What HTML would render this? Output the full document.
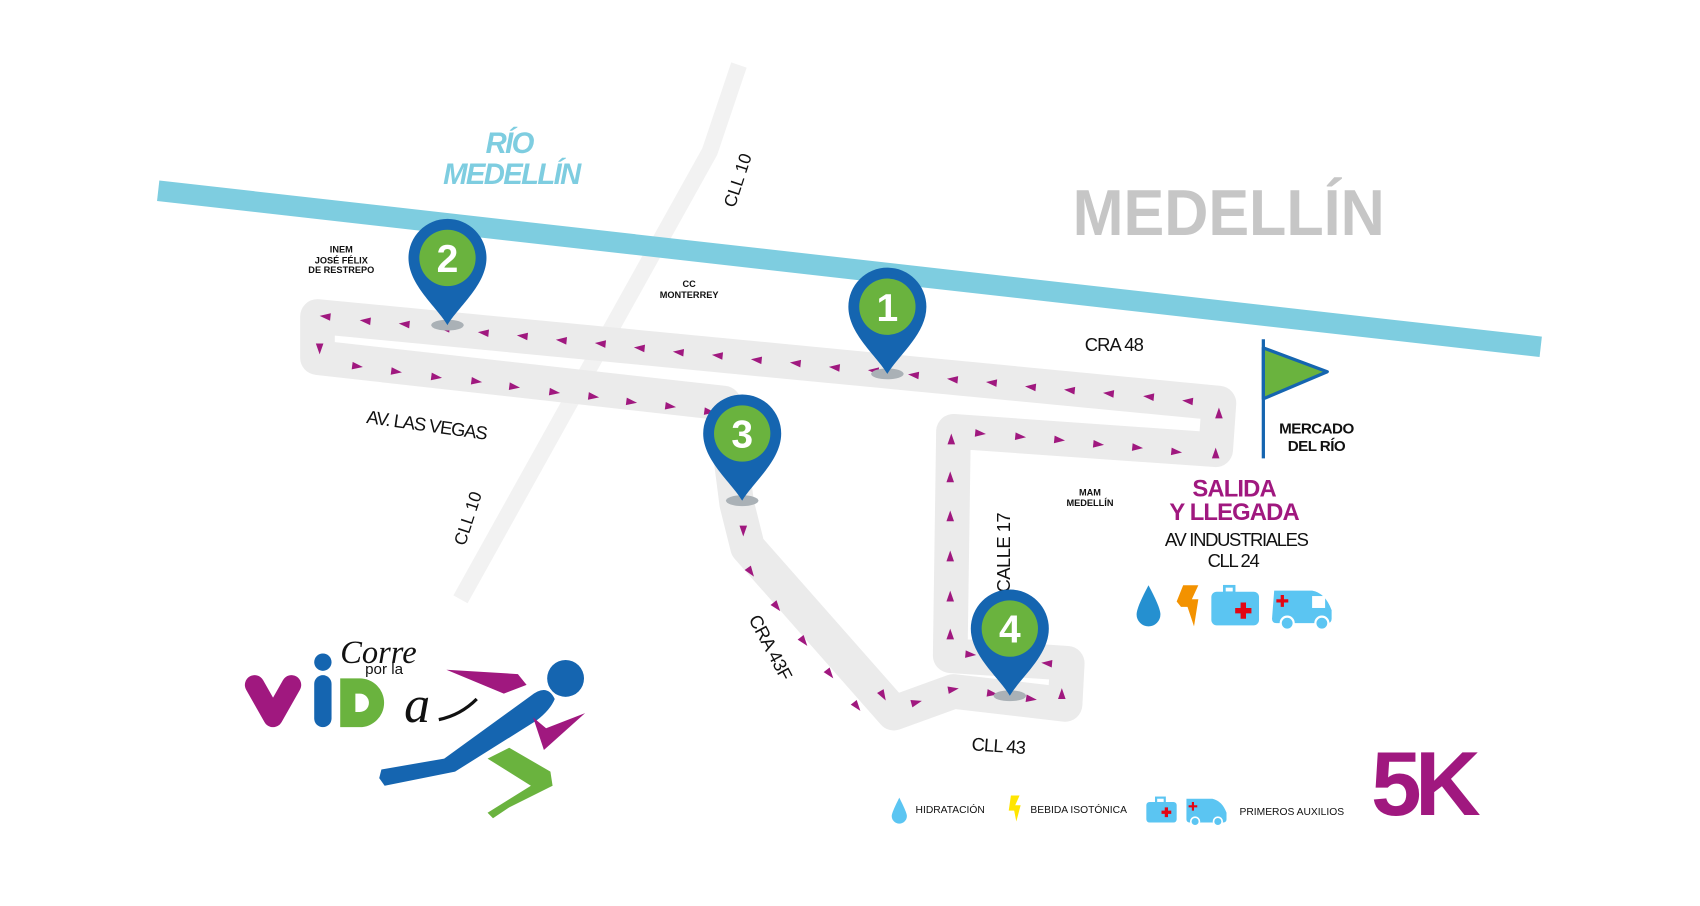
<!DOCTYPE html>
<html><head><meta charset="utf-8"><style>
html,body{margin:0;padding:0;background:#fff;width:1700px;height:906px;overflow:hidden}
svg{display:block}
</style></head><body>
<svg width="1700" height="906" viewBox="0 0 1569 836" preserveAspectRatio="none" xmlns="http://www.w3.org/2000/svg" font-family="Liberation Sans, sans-serif">
<defs>
<path id="t" d="M-5,-3.5 L5,0 L-5,3.5 Z" fill="#a0187f"/>
<g id="pin"><ellipse cx="0" cy="62" rx="15" ry="5" fill="#aab1b6"/><path d="M0,62 C-10,45 -36,25 -36,0 A36,36 0 1 1 36,0 C36,25 10,45 0,62 Z" fill="#1565b0"/><circle cx="0" cy="0" r="26" fill="#6ab33e"/></g>
</defs>
<rect width="1569" height="836" fill="#fff"/>
<polyline points="682,60 655,140 425,553" fill="none" stroke="#f2f2f2" stroke-width="15"/>
<line x1="146" y1="176" x2="1422" y2="320" stroke="#7ecde0" stroke-width="19"/>
<path d="M293,292 L1125,372 L1122,415 L880,398 L877,605 L985,612 L983,650 L880,638 L825,658 L690,505 L680,465 L668,372 L293,330 Z" fill="none" stroke="#ebebeb" stroke-width="32" stroke-linejoin="round"/>
<g>
<use href="#t" transform="translate(1096,370) rotate(185.7)"/><use href="#t" transform="translate(1060,366) rotate(185.7)"/><use href="#t" transform="translate(1023,363) rotate(185.7)"/><use href="#t" transform="translate(987,360) rotate(185.7)"/><use href="#t" transform="translate(951,357) rotate(185.7)"/><use href="#t" transform="translate(915,353) rotate(185.7)"/><use href="#t" transform="translate(879,350) rotate(185.7)"/><use href="#t" transform="translate(843,346) rotate(185.7)"/><use href="#t" transform="translate(806,342) rotate(185.7)"/><use href="#t" transform="translate(770,339) rotate(185.7)"/><use href="#t" transform="translate(734,335) rotate(185.7)"/><use href="#t" transform="translate(698,332) rotate(185.7)"/><use href="#t" transform="translate(662,328) rotate(185.7)"/><use href="#t" transform="translate(626,325) rotate(185.7)"/><use href="#t" transform="translate(590,321) rotate(185.7)"/><use href="#t" transform="translate(554,317) rotate(185.7)"/><use href="#t" transform="translate(518,314) rotate(185.7)"/><use href="#t" transform="translate(482,310) rotate(185.7)"/><use href="#t" transform="translate(446,307) rotate(185.7)"/><use href="#t" transform="translate(410,303) rotate(185.7)"/><use href="#t" transform="translate(373,299) rotate(185.7)"/><use href="#t" transform="translate(337,296) rotate(185.7)"/><use href="#t" transform="translate(300,292) rotate(185.7)"/>
<use href="#t" transform="translate(295,322) rotate(90)"/>
<use href="#t" transform="translate(330,338) rotate(7.4)"/><use href="#t" transform="translate(366,343) rotate(7.4)"/><use href="#t" transform="translate(403,348) rotate(7.4)"/><use href="#t" transform="translate(440,352) rotate(7.4)"/><use href="#t" transform="translate(475,357) rotate(7.4)"/><use href="#t" transform="translate(512,362) rotate(7.4)"/><use href="#t" transform="translate(548,366) rotate(7.4)"/><use href="#t" transform="translate(583,371) rotate(7.4)"/><use href="#t" transform="translate(619,375) rotate(7.4)"/><use href="#t" transform="translate(655,380) rotate(7.4)"/>
<use href="#t" transform="translate(686,490) rotate(90)"/><use href="#t" transform="translate(693,528) rotate(55)"/><use href="#t" transform="translate(717,560) rotate(52)"/><use href="#t" transform="translate(742,592) rotate(52)"/><use href="#t" transform="translate(766,622) rotate(52)"/><use href="#t" transform="translate(791,652) rotate(52)"/><use href="#t" transform="translate(815,642) rotate(60)"/>
<use href="#t" transform="translate(846,648) rotate(-15)"/><use href="#t" transform="translate(880,636) rotate(-10)"/><use href="#t" transform="translate(916,640) rotate(8)"/><use href="#t" transform="translate(952,645) rotate(8)"/><use href="#t" transform="translate(980,640) rotate(-90)"/><use href="#t" transform="translate(966,612) rotate(185)"/><use href="#t" transform="translate(896,604) rotate(5)"/>
<use href="#t" transform="translate(877,585) rotate(-90)"/><use href="#t" transform="translate(877,550) rotate(-90)"/><use href="#t" transform="translate(877,513) rotate(-90)"/><use href="#t" transform="translate(877,476) rotate(-90)"/><use href="#t" transform="translate(877,440) rotate(-90)"/><use href="#t" transform="translate(878,405) rotate(-90)"/>
<use href="#t" transform="translate(905,400) rotate(5.7)"/><use href="#t" transform="translate(942,403) rotate(5.7)"/><use href="#t" transform="translate(978,406) rotate(5.7)"/><use href="#t" transform="translate(1014,410) rotate(5.7)"/><use href="#t" transform="translate(1050,413) rotate(5.7)"/><use href="#t" transform="translate(1086,417) rotate(5.7)"/>
<use href="#t" transform="translate(1122,418) rotate(-90)"/><use href="#t" transform="translate(1125,381) rotate(-90)"/>
</g>
<text x="470" y="141" text-anchor="middle" font-size="27" font-weight="bold" font-style="italic" fill="#7ecde0" letter-spacing="-1.5">RÍO</text>
<text x="472" y="170" text-anchor="middle" font-size="27" font-weight="bold" font-style="italic" fill="#7ecde0" letter-spacing="-1.5">MEDELLÍN</text>
<text x="990" y="217" font-size="60" font-weight="bold" fill="#c6c6c6" textLength="288" lengthAdjust="spacingAndGlyphs">MEDELLÍN</text>
<text transform="translate(686,168) rotate(-72)" text-anchor="middle" font-size="16" fill="#111">CLL 10</text>
<text transform="translate(437,480) rotate(-72)" text-anchor="middle" font-size="16" fill="#111">CLL 10</text>
<g font-size="8.5" font-weight="bold" fill="#111" text-anchor="middle">
<text x="315" y="233">INEM</text><text x="315" y="243">JOSÉ FÉLIX</text><text x="315" y="252">DE RESTREPO</text>
<text x="636" y="265">CC</text><text x="636" y="275">MONTERREY</text>
<text x="1006" y="457">MAM</text><text x="1006" y="467">MEDELLÍN</text>
</g>
<text x="1028" y="324" text-anchor="middle" font-size="17" fill="#111" letter-spacing="-0.8">CRA 48</text>
<text transform="translate(393,398) rotate(8)" text-anchor="middle" font-size="17" fill="#111" letter-spacing="-1">AV. LAS VEGAS</text>
<text transform="translate(932,510) rotate(-90)" text-anchor="middle" font-size="17" fill="#111" letter-spacing="-0.5">CALLE 17</text>
<text transform="translate(706,600) rotate(62)" text-anchor="middle" font-size="17" fill="#111" letter-spacing="-0.5">CRA 43F</text>
<text transform="translate(921,694) rotate(4)" text-anchor="middle" font-size="17" fill="#111" letter-spacing="-0.8">CLL 43</text>
<use href="#pin" transform="translate(413,238)"/><text x="413" y="251" text-anchor="middle" font-size="36" font-weight="bold" fill="#fff">2</text>
<use href="#pin" transform="translate(819,283)"/><text x="819" y="296" text-anchor="middle" font-size="36" font-weight="bold" fill="#fff">1</text>
<use href="#pin" transform="translate(685,400)"/><text x="685" y="413" text-anchor="middle" font-size="36" font-weight="bold" fill="#fff">3</text>
<use href="#pin" transform="translate(932,580)"/><text x="932" y="593" text-anchor="middle" font-size="36" font-weight="bold" fill="#fff">4</text>
<line x1="1166" y1="313" x2="1166" y2="423" stroke="#1565b0" stroke-width="3"/>
<path d="M1166,321 L1225,343 L1166,368 Z" fill="#6ab33e" stroke="#1565b0" stroke-width="3" stroke-linejoin="round"/>
<text x="1215" y="400" text-anchor="middle" font-size="14" font-weight="bold" fill="#111" letter-spacing="-0.5">MERCADO</text>
<text x="1215" y="416" text-anchor="middle" font-size="14" font-weight="bold" fill="#111" letter-spacing="-0.5">DEL RÍO</text>
<text x="1139" y="458" text-anchor="middle" font-size="22" font-weight="bold" fill="#a0187f" letter-spacing="-0.8">SALIDA</text>
<text x="1139" y="480" text-anchor="middle" font-size="22" font-weight="bold" fill="#a0187f" letter-spacing="-0.8">Y LLEGADA</text>
<text x="1141" y="504" text-anchor="middle" font-size="17" fill="#111" letter-spacing="-1.2">AV INDUSTRIALES</text>
<text x="1138" y="523" text-anchor="middle" font-size="17" fill="#111" letter-spacing="-1.2">CLL 24</text>
<path d="M1060,540 C1052,555 1049,563 1049,567 A11,11 0 0 0 1071,567 C1071,563 1068,555 1060,540 Z" fill="#2590d0"/>
<path d="M1092,540 L1106,540 L1100,553 L1106,553 L1102,578 L1096,560 L1090,560 L1086,555 Z" fill="#f39200"/>
<rect x="1130" y="541" width="9" height="6" fill="none" stroke="#5bc5f2" stroke-width="2.5"/>
<rect x="1118" y="546" width="44" height="31" rx="5" fill="#5bc5f2"/>
<path d="M1145,556 h5 v5 h5 v5 h-5 v5 h-5 v-5 h-5 v-5 h5 z" fill="#e30613"/>
<path d="M1176,545 h35 q12,2 18,18 v8 q0,4 -4,4 h-47 q-4,0 -4,-4 z" fill="#5bc5f2"/>
<rect x="1211" y="550" width="12" height="11" fill="#fff"/>
<circle cx="1188" cy="575" r="6" fill="#5bc5f2" stroke="#fff" stroke-width="2"/><circle cx="1220" cy="575" r="6" fill="#5bc5f2" stroke="#fff" stroke-width="2"/>
<path d="M1182,549 h3 v4 h4 v3 h-4 v4 h-3 v-4 h-4 v-3 h4 z" fill="#e30613"/>
<path d="M830,736 C825,746 823,751 823,753 A7,7 0 0 0 837,753 C837,751 835,746 830,736 Z" fill="#5bc5f2"/>
<text x="845" y="750" font-size="9.5" fill="#111">HIDRATACIÓN</text>
<path d="M933,734 L941,734 L937,743 L942,743 L938,758 L936,748 L931,748 Z" fill="#ffe500"/>
<text x="951" y="750" font-size="9.5" fill="#111">BEBIDA ISOTÓNICA</text>
<rect x="1058" y="740" width="28" height="19" rx="3" fill="#5bc5f2"/><rect x="1067" y="736" width="8" height="5" fill="none" stroke="#5bc5f2" stroke-width="2"/>
<path d="M1075,745 h3 v3 h3 v3 h-3 v3 h-3 v-3 h-3 v-3 h3 z" fill="#e30613"/>
<path d="M1095,737 h24 q9,2 13,13 v6 q0,3 -3,3 h-31 q-3,0 -3,-3 z" fill="#5bc5f2"/>
<circle cx="1103" cy="758" r="4" fill="#5bc5f2" stroke="#fff" stroke-width="1.5"/><circle cx="1124" cy="758" r="4" fill="#5bc5f2" stroke="#fff" stroke-width="1.5"/>
<path d="M1100,740 h2 v3 h3 v2 h-3 v3 h-2 v-3 h-3 v-2 h3 z" fill="#e30613"/>
<text x="1144" y="752" font-size="9.5" fill="#111">PRIMEROS AUXILIOS</text>
<text x="1313" y="752" text-anchor="middle" font-size="84" font-weight="bold" fill="#a0187f" letter-spacing="-6">5K</text>
<text x="314" y="612" font-size="30" font-style="italic" font-family="Liberation Serif, serif" fill="#111">Corre</text>
<text x="337" y="622" font-size="14" fill="#111">por la</text>
<path d="M235,632 L252,662 L269,632" fill="none" stroke="#a0187f" stroke-width="18" stroke-linecap="round" stroke-linejoin="round"/>
<circle cx="298" cy="611" r="8" fill="#1565b0"/>
<rect x="290" y="623" width="16" height="48" rx="8" fill="#1565b0"/>
<path d="M314,626 h18 a22,22 0 0 1 0,45 h-18 z" fill="#6ab33e"/><path d="M328,640 h4 a8,8 0 0 1 0,17 h-4 z" fill="#fff"/>
<text x="373" y="666" font-size="48" font-style="italic" font-family="Liberation Serif, serif" fill="#111">a</text>
<path d="M405,664 Q425,660 440,645" fill="none" stroke="#111" stroke-width="3"/>
<path d="M412,618 L478,622 L486,632 L465,640 Z" fill="#a0187f"/>
<circle cx="522" cy="626" r="17" fill="#1565b0"/>
<path d="M350,718 L352,710 L410,700 L490,642 Q505,630 512,645 Q508,655 495,665 L420,712 L355,725 Z" fill="#1565b0"/>
<path d="M492,662 L504,672 L540,658 L502,692 Z" fill="#a0187f"/>
<path d="M450,700 L470,690 L508,712 L510,725 L470,745 L455,755 L450,750 L490,725 Z" fill="#6ab33e"/>
</svg>
</body></html>
